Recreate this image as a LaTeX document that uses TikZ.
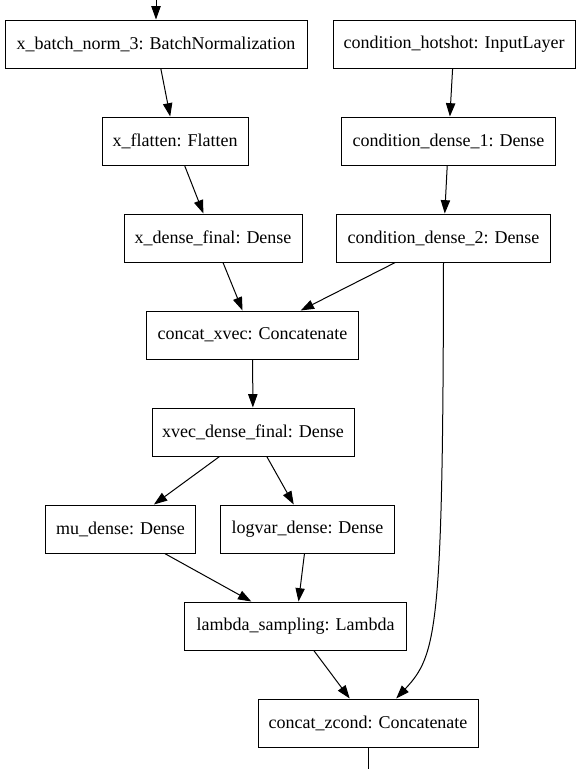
\documentclass[tikz,border=0pt]{standalone}
\usepackage{fontspec}
\setmainfont{Liberation Serif}
\usetikzlibrary{positioning, arrows.meta}

\tikzset{
  layer/.style={draw, rectangle, line width=0.75pt, minimum height=36pt, inner sep=0,
    font=\fontsize{13.5}{16}\selectfont},
  flow/.style={line width=0.75pt, -{Triangle[length=10pt, width=7pt]}}
}

\begin{document}
\begin{tikzpicture}[x=0.75pt, y=-0.75pt]
  \useasboundingbox (0,0) rectangle (579,769);
  % layers
  \node[layer, minimum width=226.5pt] (xbn) at (156,44) {x\_batch\_norm\_3: BatchNormalization};
  \node[layer, minimum width=181.5pt] (hot) at (454,44) {condition\_hotshot: InputLayer};
  \node[layer, minimum width=109.5pt] (xfl) at (175,141) {x\_flatten: Flatten};
  \node[layer, minimum width=160pt] (cd1) at (448.5,141) {condition\_dense\_1: Dense};
  \node[layer, minimum width=133.5pt] (xdf) at (213,238) {x\_dense\_final: Dense};
  \node[layer, minimum width=160pt] (cd2) at (443.5,238) {condition\_dense\_2: Dense};
  \node[layer, minimum width=158.5pt] (cxv) at (252.5,335) {concat\_xvec: Concatenate};
  \node[layer, minimum width=151.5pt] (xvd) at (253,432) {xvec\_dense\_final: Dense};
  \node[layer, minimum width=113pt] (mud) at (120.5,529) {mu\_dense: Dense};
  \node[layer, minimum width=130pt] (lvd) at (307.5,529) {logvar\_dense: Dense};
  \node[layer, minimum width=167pt] (lam) at (295.5,626) {lambda\_sampling: Lambda};
  \node[layer, minimum width=165pt] (czc) at (368,723) {concat\_zcond: Concatenate};
  \coordinate (in) at (156,0);
  \coordinate (out) at (368,769);
  % connections
  \draw[flow] (in) -- (xbn);
  \foreach \a/\b in {xbn/xfl, xfl/xdf, hot/cd1, cd1/cd2, xdf/cxv, cd2/cxv,
                     cxv/xvd, xvd/mud, xvd/lvd, mud/lam, lvd/lam, lam/czc}{
    \draw[flow] (\a) -- (\b);
  }
  \draw[flow] (cd2.south) .. controls (443,630) and (437,655) .. (czc.41);
  \draw[line width=0.75pt] (czc) -- (out);
\end{tikzpicture}
\end{document}
